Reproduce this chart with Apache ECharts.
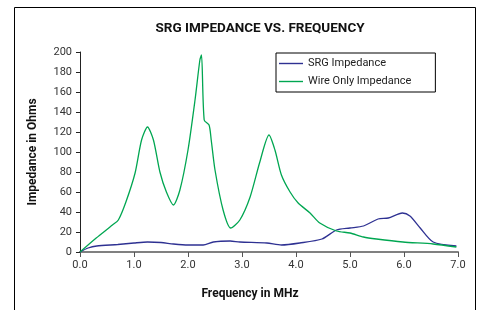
<!DOCTYPE html>
<html>
<head>
<meta charset="utf-8">
<script src="https://cdn.jsdelivr.net/npm/echarts@6/dist/echarts.min.js"></script>
<style>
  html, body { margin: 0; padding: 0; background: #fff; }
  #main { width: 482px; height: 310px; }
</style>
</head>
<body>
<div id="main"></div>
<script>
// values
const srgFreq = [0, 0.15, 0.31, 0.7, 1.0, 1.25, 1.5, 1.73, 2.0, 2.28, 2.47, 2.78, 2.96, 3.46, 3.73, 4.07, 4.48, 4.75, 5.0, 5.25, 5.52, 5.71, 5.97, 6.11, 6.3, 6.54, 6.97];
const srgImpedance = [0, 4, 6, 7.5, 9, 10, 9.5, 8, 7, 7, 10, 11, 10, 9, 7, 9, 13, 22, 24, 26, 33, 34, 39, 36, 24, 10, 6];

const wireFreq = [0, 0.3, 0.6, 0.71, 0.85, 1.02, 1.14, 1.25, 1.36, 1.48, 1.6, 1.73, 1.85, 2.0, 2.13, 2.22, 2.25, 2.3, 2.39, 2.43, 2.5, 2.65, 2.79, 2.96, 3.15, 3.33, 3.5, 3.61, 3.73, 3.89, 4.04, 4.26, 4.44, 4.75, 5.0, 5.25, 5.49, 5.98, 6.54, 6.97];
const wireImpedance = [0, 14, 27, 32, 50, 79, 112, 125, 112, 80, 60, 47, 62, 102, 152, 192, 197, 132, 127, 112, 82, 42, 24, 32, 55, 90, 117, 102, 77, 60, 49, 39, 29, 21, 19, 15, 13, 10, 8, 5];

const xTicks = [0, 7, 1];    // min, max, step
const yTicks = [0, 200, 20];

const pairs = (xs, ys) => xs.map((x, i) => [x, ys[i]]);
const lineIcon = 'path://M0 0H24V1.4H0Z';

const chart = echarts.init(document.getElementById('main'));
const option = {
  animation: false,
  textStyle: { fontFamily: 'Roboto' },
  title: {
    text: 'SRG IMPEDANCE VS. FREQUENCY',
    left: 255, top: 17, textAlign: 'center',
    textStyle: { fontSize: 13.5, fontWeight: 'bold', color: '#111' }
  },
  graphic: [{
    type: 'rect', silent: true,
    shape: { x: 14.5, y: 7.5, width: 461, height: 320 },
    style: { fill: 'none', stroke: '#000', lineWidth: 1 }
  }],
  legend: {
    orient: 'vertical', left: 276, top: 53,
    padding: [5, 24, 5, 3],
    borderColor: '#000', borderWidth: 1,
    itemWidth: 24, itemHeight: 12, itemGap: 7,
    symbolKeepAspect: true,
    data: [
      { name: 'SRG Impedance', icon: lineIcon },
      { name: 'Wire Only Impedance', icon: lineIcon }
    ],
    textStyle: { fontSize: 11, color: '#222' }
  },
  grid: { left: 80, right: 24, top: 52, bottom: 58 },
  xAxis: {
    type: 'value', min: xTicks[0], max: xTicks[1], interval: xTicks[2],
    name: 'Frequency in MHz', nameLocation: 'middle', nameGap: 36,
    nameTextStyle: { fontSize: 12, fontWeight: 'bold', color: '#111', padding: [0, 38, 0, 0] },
    axisLine: { lineStyle: { color: '#808080', width: 2 } },
    axisTick: { length: 5, lineStyle: { color: '#555' } },
    axisLabel: { margin: 8, fontSize: 11, color: '#333', formatter: v => v.toFixed(1) },
    splitLine: { show: false }
  },
  yAxis: {
    type: 'value', min: yTicks[0], max: yTicks[1], interval: yTicks[2],
    name: 'Impedance in Ohms', nameLocation: 'middle', nameGap: 41,
    nameTextStyle: { fontSize: 12, fontWeight: 'bold', color: '#111' },
    axisLine: { show: true, lineStyle: { color: '#222', width: 1 } },
    axisTick: { show: true, length: 4, lineStyle: { color: '#222' } },
    axisLabel: { margin: 8, fontSize: 11, color: '#333' },
    splitLine: { show: false }
  },
  series: [
    {
      name: 'SRG Impedance', type: 'line', symbol: 'none', smooth: 0.25,
      data: pairs(srgFreq, srgImpedance),
      itemStyle: { color: '#2E3192' },
      lineStyle: { color: '#2E3192', width: 1.3 }
    },
    {
      name: 'Wire Only Impedance', type: 'line', symbol: 'none', smooth: 0.25,
      data: pairs(wireFreq, wireImpedance),
      itemStyle: { color: '#00A651' },
      lineStyle: { color: '#00A651', width: 1.3 }
    }
  ]
};
option && chart.setOption(option);
</script>
</body>
</html>
